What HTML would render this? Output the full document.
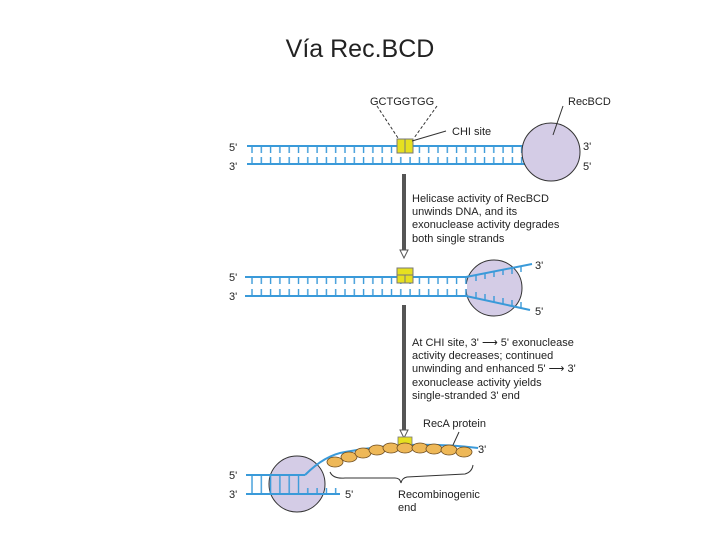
<!DOCTYPE html>
<html><head><meta charset="utf-8"><style>
body{margin:0;background:#fff;}
svg{display:block;}
text{font-family:"Liberation Sans",sans-serif;fill:#222;}
</style></head><body>
<svg width="720" height="540" viewBox="0 0 720 540" xmlns="http://www.w3.org/2000/svg">
<defs>
<pattern id="t1" x="249" y="0" width="9.3" height="540" patternUnits="userSpaceOnUse">
<line x1="3" y1="0" x2="3" y2="540" stroke="#3a9ad9" stroke-width="1.4"/></pattern>
</defs>
<text x="360" y="57" font-size="25" text-anchor="middle" style="font-family:'Liberation Sans',sans-serif" fill="#111">Vía Rec.BCD</text>

<!-- TOP -->
<rect x="249" y="146" width="278" height="18" fill="url(#t1)"/>
<rect x="249" y="153" width="278" height="4" fill="#fff"/>
<line x1="247" y1="146" x2="527" y2="146" stroke="#3a9ad9" stroke-width="2"/>
<line x1="247" y1="164" x2="527" y2="164" stroke="#3a9ad9" stroke-width="2"/>
<circle cx="551" cy="152" r="29" fill="#d4cce6" stroke="#333" stroke-width="1"/>
<rect x="397" y="139" width="16" height="14" fill="#e6e020" stroke="#777" stroke-width="1"/>
<line x1="405" y1="139" x2="405" y2="153" stroke="#777"/>
<line x1="377" y1="106" x2="398" y2="138" stroke="#333" stroke-dasharray="3,2"/>
<line x1="437" y1="106" x2="414" y2="138" stroke="#333" stroke-dasharray="3,2"/>
<line x1="412" y1="141" x2="446" y2="131" stroke="#333"/>
<line x1="563" y1="106" x2="553" y2="135" stroke="#333"/>
<text x="370" y="105" font-size="11">GCTGGTGG</text>
<text x="568" y="105" font-size="11">RecBCD</text>
<text x="452" y="135" font-size="11">CHI site</text>
<text x="229" y="151" font-size="11">5'</text>
<text x="229" y="170" font-size="11">3'</text>
<text x="583" y="150" font-size="11">3'</text>
<text x="583" y="170" font-size="11">5'</text>

<line x1="404" y1="174" x2="404" y2="250" stroke="#555" stroke-width="4"/>
<polygon points="400,250 408,250 404,258" fill="#fff" stroke="#555"/>
<g font-size="11"><text x="412" y="202">Helicase activity of RecBCD</text>
<text x="412" y="215">unwinds DNA, and its</text>
<text x="412" y="228">exonuclease activity degrades</text>
<text x="412" y="242">both single strands</text></g>

<!-- MIDDLE -->
<circle cx="494" cy="288" r="28" fill="#d4cce6" stroke="#333" stroke-width="1"/>
<rect x="249" y="277" width="218" height="19" fill="url(#t1)"/>
<rect x="249" y="284" width="218" height="5" fill="#fff"/>
<line x1="245" y1="277" x2="467" y2="277" stroke="#3a9ad9" stroke-width="2"/>
<line x1="245" y1="296" x2="467" y2="296" stroke="#3a9ad9" stroke-width="2"/>
<line x1="466" y1="277" x2="532" y2="264" stroke="#3a9ad9" stroke-width="2"/>
<line x1="466" y1="296" x2="530" y2="310" stroke="#3a9ad9" stroke-width="2"/>
<g stroke="#3a9ad9" stroke-width="1.4">
<line x1="476" y1="275" x2="476" y2="281"/><line x1="485" y1="273" x2="485" y2="279"/><line x1="494" y1="271" x2="494" y2="277"/><line x1="503" y1="269" x2="503" y2="275"/><line x1="512" y1="268" x2="512" y2="274"/><line x1="521" y1="266" x2="521" y2="272"/>
<line x1="476" y1="298" x2="476" y2="292"/><line x1="485" y1="300" x2="485" y2="294"/><line x1="494" y1="302" x2="494" y2="296"/><line x1="503" y1="304" x2="503" y2="298"/><line x1="512" y1="306" x2="512" y2="300"/><line x1="521" y1="308" x2="521" y2="302"/>
</g>
<rect x="397" y="268" width="16" height="15" fill="#e6e020" stroke="#777" stroke-width="1"/>
<line x1="405" y1="275" x2="405" y2="283" stroke="#777"/>
<line x1="397" y1="275" x2="413" y2="275" stroke="#777"/>
<text x="229" y="281" font-size="11">5'</text>
<text x="229" y="300" font-size="11">3'</text>
<text x="535" y="269" font-size="11">3'</text>
<text x="535" y="315" font-size="11">5'</text>

<line x1="404" y1="305" x2="404" y2="430" stroke="#555" stroke-width="4"/>
<polygon points="400,430 408,430 404,438" fill="#fff" stroke="#555"/>
<g font-size="11"><text x="412" y="346">At CHI site, 3' ⟶ 5' exonuclease</text>
<text x="412" y="359">activity decreases; continued</text>
<text x="412" y="372">unwinding and enhanced 5' ⟶ 3'</text>
<text x="412" y="386">exonuclease activity yields</text>
<text x="412" y="399">single-stranded 3' end</text></g>

<!-- BOTTOM -->
<circle cx="297" cy="484" r="28" fill="#d4cce6" stroke="#333" stroke-width="1"/>
<rect x="249" y="475" width="56" height="19" fill="url(#t1)"/>
<rect x="305" y="488" width="35" height="6" fill="url(#t1)"/>
<rect x="249" y="481" width="56" height="6" fill="#fff" opacity="0"/>
<line x1="246" y1="475" x2="305" y2="475" stroke="#3a9ad9" stroke-width="2"/>
<line x1="246" y1="494" x2="340" y2="494" stroke="#3a9ad9" stroke-width="2"/>
<path d="M305 475 Q325 455 345 452 Q410 440 478 448" fill="none" stroke="#3a9ad9" stroke-width="2"/>
<rect x="398" y="437" width="14" height="9" fill="#e6e020" stroke="#777" stroke-width="0.8"/>
<g fill="#eeb858" stroke="#6a4a20" stroke-width="0.8">
<ellipse cx="335" cy="462" rx="8" ry="5"/><ellipse cx="349" cy="457" rx="8" ry="5"/>
<ellipse cx="363" cy="453" rx="8" ry="5"/><ellipse cx="377" cy="450" rx="8" ry="5"/>
<ellipse cx="391" cy="448" rx="8" ry="5"/><ellipse cx="405" cy="448" rx="8" ry="5"/>
<ellipse cx="420" cy="448" rx="8" ry="5"/><ellipse cx="434" cy="449" rx="8" ry="5"/>
<ellipse cx="449" cy="450" rx="8" ry="5"/><ellipse cx="464" cy="452" rx="8" ry="5"/>
</g>
<line x1="453" y1="445" x2="459" y2="432" stroke="#333"/>
<path d="M330 472 Q333 479 345 478 L395 478 Q400 478 401 483 Q402 478 407 477 L465 474 Q472 472 473 465" fill="none" stroke="#333" stroke-width="1"/>
<text x="423" y="427" font-size="11">RecA protein</text>
<text x="478" y="453" font-size="11">3'</text>
<text x="229" y="479" font-size="11">5'</text>
<text x="229" y="498" font-size="11">3'</text>
<text x="345" y="498" font-size="11">5'</text>
<text x="398" y="498" font-size="11">Recombinogenic</text>
<text x="398" y="511" font-size="11">end</text>
</svg>
</body></html>
